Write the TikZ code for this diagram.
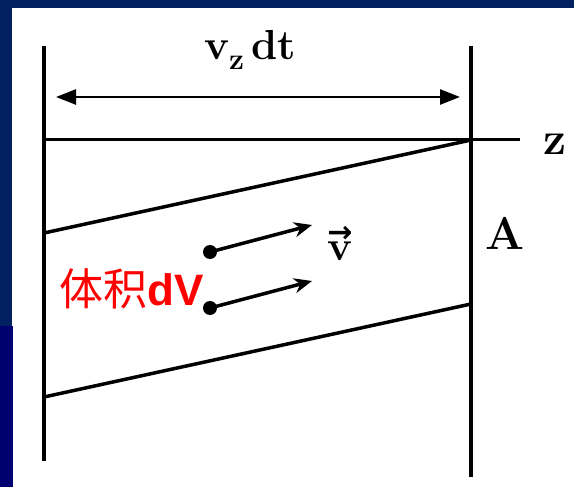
\documentclass[tikz,border=0pt]{standalone}
\usepackage{fontspec}
\newfontfamily\cjkfont{Noto Sans CJK SC}
\newfontfamily\arialfont{Liberation Sans}
\newfontfamily\symfont{DejaVu Sans}
\usepackage{tikz}
\usetikzlibrary{arrows.meta,positioning}
\definecolor{slidenavy}{RGB}{0,32,96}
\definecolor{slideblue}{RGB}{0,0,112}

\begin{document}
\begin{tikzpicture}[x=1pt, y=-1pt,
    wall/.style={line width=3.5pt, black},
    flowarr/.style={-{Stealth[length=18pt, width=15pt]}, line width=3.5pt},
    dimarr/.style={{Triangle[length=20pt, width=15pt]}-{Triangle[length=20pt, width=15pt]}, line width=2.5pt},
    lbl/.style={inner sep=0pt, font=\fontsize{42}{48}\selectfont\bfseries},
    biglbl/.style={inner sep=0pt, font=\fontsize{46}{52}\selectfont\bfseries}
]
    % slide background
    \useasboundingbox (0,0) rectangle (574,487);
    \fill[white] (0,0) rectangle (574,487);
    \fill[slidenavy] (0,0) rectangle (574,8);
    \fill[slidenavy] (0,0) rectangle (12,326);
    \fill[slideblue] (0,326) rectangle (13,487);

    % walls and axis
    \coordinate (lt) at (44,46);
    \coordinate (lb) at (44,461);
    \coordinate (rt) at (471,46);
    \coordinate (rb) at (471,477);
    \coordinate (o) at (44,140);
    \coordinate (zend) at (520,140);
    \coordinate (ua) at (44,233);
    \coordinate (ub) at (471,140);
    \coordinate (la) at (44,397);
    \coordinate (lbr) at (471,304);
    \coordinate (dl) at (56,97);
    \coordinate (dr) at (460,97);

    \draw[wall] (lt) -- (lb);
    \draw[wall] (rt) -- (rb);
    \draw[line width=3pt] (o) -- (zend);
    \draw[wall] (ua) -- (ub);
    \draw[wall] (la) -- (lbr);
    \draw[dimarr] (dl) -- (dr);

    % velocity arrows
    \coordinate (p1) at (210,252);
    \coordinate (q1) at (312,225);
    \coordinate (p2) at (210,308);
    \coordinate (q2) at (312,281);
    \fill (p1) circle (7pt);
    \fill (p2) circle (7pt);
    \draw[flowarr] (p1) -- (q1);
    \draw[flowarr] (p2) -- (q2);

    % labels
    \node[lbl] (vzdt) at (250,50) {v\raisebox{-10pt}{\fontsize{30}{34}\selectfont z}\,dt};
    \node[biglbl] (zlbl) at (555,144) {z};
    \node[biglbl] (alab) at (505,233) {A};
    \node[lbl, align=center] (vlbl) at (340,244)
        {{\symfont\fontsize{30}{30}\selectfont →}\\[-30pt]v};
    \node[inner sep=0pt, text=red, font=\fontsize{44}{50}\selectfont] (vol) at (132,289)
        {{\cjkfont 体积}{\arialfont\bfseries dV}};
\end{tikzpicture}
\end{document}
